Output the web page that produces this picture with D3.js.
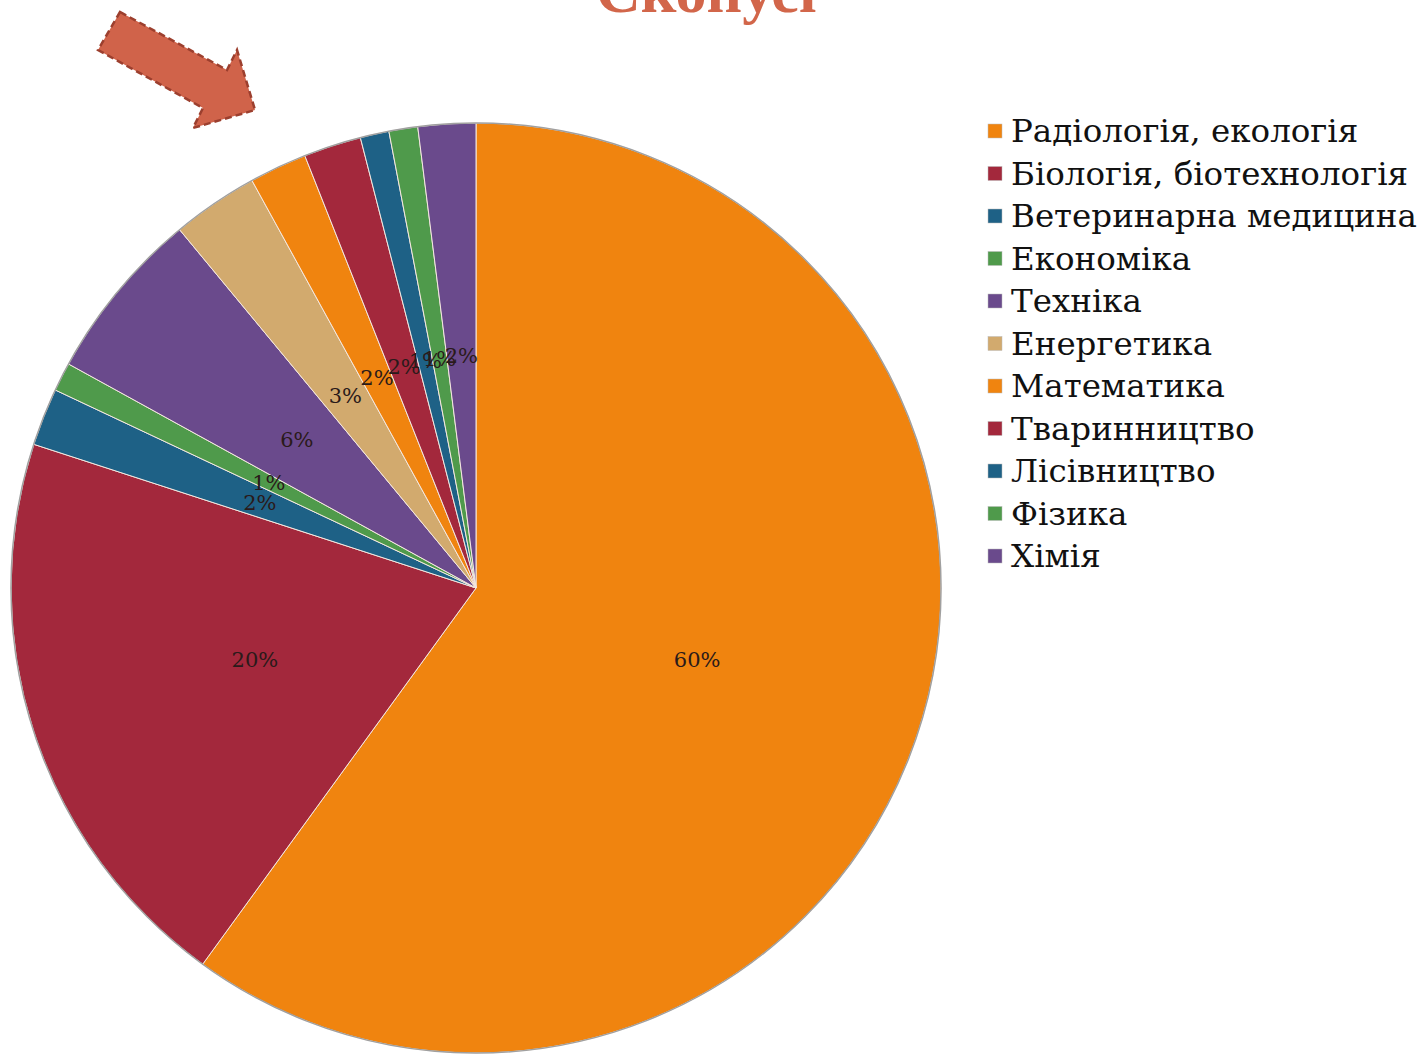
<!DOCTYPE html>
<html><head><meta charset="utf-8">
<script src="https://cdn.jsdelivr.net/npm/d3@7"></script>
<style>html,body{margin:0;padding:0;background:#fff;overflow:hidden}</style>
</head><body>
<svg id="c" width="1428" height="1054"></svg>
<script>
const title = "Скопусі";
const categories = ["Радіологія, екологія","Біологія, біотехнологія","Ветеринарна медицина","Економіка","Техніка","Енергетика","Математика","Тваринництво","Лісівництво","Фізика","Хімія"];
const values = [60,20,2,1,6,3,2,2,1,1,2];
const labels = ["60%","20%","2%","1%","6%","3%","2%","2%","1%","1%","2%"];
const colors = ["#F0840F","#A3283C","#1E6186","#4F9A4B","#6A4A8C","#D2AA6E","#F0840F","#A3283C","#1E6186","#4F9A4B","#6A4A8C"];

const svg = d3.select("#c");
const cx = 476, cy = 588, R = 465;

// title (partly cut off at top, as in the reference)
svg.append("text").attr("x", 706).attr("y", 12).attr("text-anchor","middle")
  .attr("font-family","Liberation Serif").attr("font-weight","bold").attr("font-size",62)
  .attr("fill","#D2664A").text(title);

// arrow
const arrowPts = [[120,12],[227,70],[237,50],[255,110],[193,128],[203,108],[98,50]];
svg.append("path").attr("d", d3.line()(arrowPts)+"Z")
  .attr("fill","#D0634A").attr("stroke","#9C3F2E").attr("stroke-width",2.5).attr("stroke-dasharray","7,4");

const data = categories.map((c,i)=>({cat:c, v:values[i], lab:labels[i], col:colors[i]}));
const pie = d3.pie().value(d=>d.v).sort(null);
const arcs = pie(data);
const arc = d3.arc().innerRadius(0).outerRadius(R);
const g = svg.append("g").attr("transform",`translate(${cx},${cy})`);
g.selectAll("path.s").data(arcs).join("path").attr("class","s")
  .attr("d",arc).attr("fill",d=>d.data.col).attr("stroke","#f4e8e0").attr("stroke-width",1);
g.append("circle").attr("r",R).attr("fill","none").attr("stroke","#a0a0a0").attr("stroke-width",1.5);

const labArc = d3.arc().innerRadius(R*0.5).outerRadius(R*0.5);
g.selectAll("text.l").data(arcs).join("text").attr("class","l")
  .attr("transform",d=>{const p=labArc.centroid(d);return `translate(${p[0]},${p[1]})`;})
  .attr("text-anchor","middle").attr("dy","0.35em")
  .attr("font-family","DejaVu Serif").attr("font-size",21).attr("fill","#2a1a1a")
  .text(d=>d.data.lab);

// legend
const lg = svg.append("g");
const rowH = 42.5;
categories.forEach((c,i)=>{
  const y = 131 + i*rowH;
  lg.append("rect").attr("x",988).attr("y",y-7).attr("width",14).attr("height",14)
    .attr("fill",colors[i]).attr("stroke","#bbb").attr("stroke-width",0.5);
  lg.append("text").attr("x",1011).attr("y",y).attr("dy","0.35em")
    .attr("font-family","DejaVu Serif").attr("font-size",32.5).attr("fill","#111")
    .text(c);
});
</script>
</body></html>
